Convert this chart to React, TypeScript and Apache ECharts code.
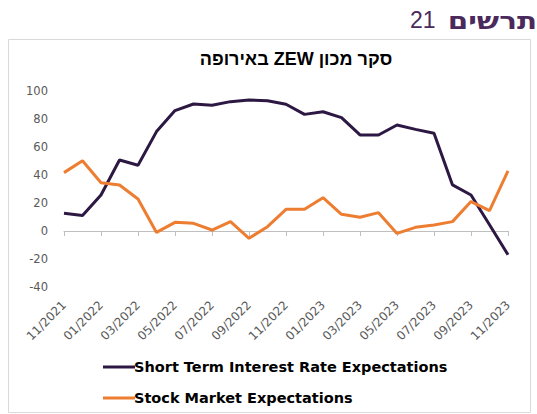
import React, { useEffect, useRef } from "react";
import * as echarts from "echarts";

const months = [
  "11/2021", "12/2021", "01/2022", "02/2022", "03/2022", "04/2022", "05/2022",
  "06/2022", "07/2022", "08/2022", "09/2022", "10/2022", "11/2022", "12/2022",
  "01/2023", "02/2023", "03/2023", "04/2023", "05/2023", "06/2023", "07/2023",
  "08/2023", "09/2023", "10/2023", "11/2023",
];

const shortTermRates = [
  12.6, 11, 25.7, 50.7, 47, 71, 86, 90.7, 89.8, 92.4, 93.6, 93, 90.5, 83.3,
  85.2, 81, 68.6, 68.6, 75.7, 72.6, 69.8, 32.9, 25.7, 4.5, -17,
];

const stockMarket = [
  41.7, 50.2, 34.5, 32.9, 22.9, -1, 6.2, 5.5, 0.7, 6.7, -5.2, 3.1, 15.5, 15.5,
  23.8, 11.9, 9.8, 13.1, -1.7, 2.6, 4.3, 6.7, 21, 14.5, 43,
];

const seriesNames = ["Short Term Interest Rate Expectations", "Stock Market Expectations"];
const headingWord = "תרשים";
const headingNumber = "21";
const chartTitle = "סקר מכון ZEW באירופה";

export default function App() {
  const ref = useRef<HTMLDivElement>(null);
  useEffect(() => {
    if (!ref.current) return;
    const chart = echarts.init(ref.current, null, { renderer: "svg" });
    chart.setOption({
      animation: false,
      backgroundColor: "#ffffff",
      graphic: [
        {
          type: "rect",
          shape: { x: 8.5, y: 39.5, width: 522, height: 373 },
          style: { fill: "#ffffff", stroke: "#d9d9d9", lineWidth: 1 },
          z: -10,
        },
        {
          type: "text",
          x: 537,
          y: 9,
          scaleX: 1.28,
          style: {
            text: headingWord,
            fontSize: 23,
            fontWeight: "bold",
            fill: "#4a2a5c",
            textAlign: "right",
            fontFamily: "'DejaVu Sans', sans-serif",
          },
        },
        {
          type: "text",
          left: 410,
          top: 8,
          style: {
            text: headingNumber,
            fontSize: 23,
            fill: "#4a2a5c",
            fontFamily: "Arial, 'Liberation Sans', sans-serif",
          },
        },
      ],
      title: {
        text: "\u202B" + chartTitle + "\u202C",
        left: 291,
        textAlign: "center",
        top: 45,
        textStyle: { fontSize: 18, fontWeight: "bold", color: "#000", fontFamily: "Arial, 'Liberation Sans', sans-serif" },
      },
      legend: {
        orient: "vertical",
        left: 98,
        top: 354,
        width: 420,
        height: 80,
        itemWidth: 32,
        itemHeight: 3,
        itemGap: 15,
        icon: "rect",
        data: seriesNames,
        textStyle: {
          fontSize: 14.5,
          lineHeight: 16,
          fontWeight: "bold",
          color: "#000",
          fontFamily: "'DejaVu Sans', sans-serif",
          padding: [0, 0, 0, -6],
        },
      },
      grid: { left: 64, right: 29, top: 91, bottom: 127, containLabel: false },
      xAxis: [
        {
          type: "category",
          data: months,
          position: "bottom",
          boundaryGap: false,
          axisLine: { onZero: true, lineStyle: { color: "#bfbfbf", width: 1 } },
          axisTick: { show: true, interval: 1, length: 5, lineStyle: { color: "#bfbfbf" } },
          axisLabel: { show: false },
          splitLine: { show: false },
        },
        {
          type: "category",
          data: months,
          position: "bottom",
          boundaryGap: false,
          axisLine: { show: false, onZero: false },
          axisTick: { show: false },
          axisLabel: {
            interval: 1,
            rotate: 45,
            color: "#595959",
            fontSize: 12,
            margin: 16,
            fontFamily: "'DejaVu Sans', sans-serif",
          },
          splitLine: { show: false },
        },
      ],
      yAxis: {
        type: "value",
        min: -40,
        max: 100,
        interval: 20,
        axisLine: { show: false },
        axisTick: { show: false },
        splitLine: { show: false },
        axisLabel: { color: "#595959", fontSize: 11.5, margin: 16, fontFamily: "'DejaVu Sans', sans-serif" },
      },
      series: [
        {
          name: seriesNames[0],
          type: "line",
          data: shortTermRates,
          xAxisIndex: 0,
          symbol: "none",
          lineStyle: { color: "#2c1843", width: 3 },
          itemStyle: { color: "#2c1843" },
        },
        {
          name: seriesNames[1],
          type: "line",
          data: stockMarket,
          xAxisIndex: 0,
          symbol: "none",
          lineStyle: { color: "#ed7d31", width: 3 },
          itemStyle: { color: "#ed7d31" },
        },
      ],
    });
    return () => chart.dispose();
  }, []);
  return <div ref={ref} style={{ width: 537, height: 414, position: "absolute", left: 0, top: 0 }} />;
}
